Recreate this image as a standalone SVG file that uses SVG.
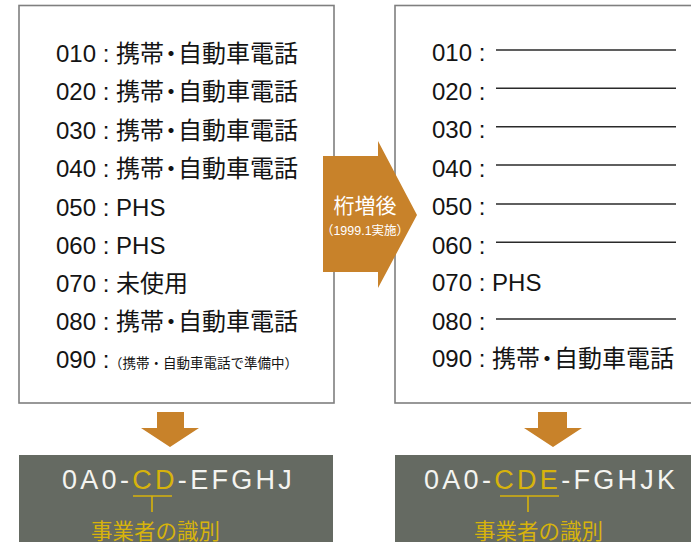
<svg xmlns="http://www.w3.org/2000/svg" width="691" height="542" viewBox="0 0 691 542">
<defs>
<style>
.box{fill:#fff;stroke:#7f7f7f;stroke-width:1.6}
.t{font-family:"Liberation Sans","Noto Sans CJK JP",sans-serif;font-size:24px;fill:#141414}
.s{font-family:"Noto Sans CJK JP",sans-serif;font-size:13.5px}
.ln{stroke:#2a2a2a;stroke-width:1.4}
.org{fill:#C8822A}
.dark{fill:#656A62}
.code{font-family:"Liberation Sans","Noto Sans CJK JP",sans-serif;font-size:27px;fill:#f4f4f0;letter-spacing:3.3px}
.y{fill:#D7B30C}
.yl{stroke:#D7B30C;stroke-width:1.6;fill:none}
.id{font-family:"Noto Sans CJK JP",sans-serif;font-size:21.5px;fill:#D7B30C}
</style>
</defs>
<g id="before">
<rect class="box" x="19" y="5.5" width="315" height="397.5"/>
<text class="t" x="56" y="62">010 : 携帯<tspan dx="-5">・</tspan><tspan dx="-5">自動車電話</tspan></text>
<text class="t" x="56" y="100">020 : 携帯<tspan dx="-5">・</tspan><tspan dx="-5">自動車電話</tspan></text>
<text class="t" x="56" y="139">030 : 携帯<tspan dx="-5">・</tspan><tspan dx="-5">自動車電話</tspan></text>
<text class="t" x="56" y="177">040 : 携帯<tspan dx="-5">・</tspan><tspan dx="-5">自動車電話</tspan></text>
<text class="t" x="56" y="216">050 : PHS</text>
<text class="t" x="56" y="254">060 : PHS</text>
<text class="t" x="56" y="292">070 : 未使用</text>
<text class="t" x="56" y="330">080 : 携帯<tspan dx="-5">・</tspan><tspan dx="-5">自動車電話</tspan></text>
<text class="t" x="56" y="368">090 : <tspan class="s" dx="-7">（携帯・自動車電話で準備中）</tspan></text>
</g>
<g id="after">
<rect class="box" x="395" y="5.5" width="310" height="397.5"/>
<text class="t" x="432" y="61">010 :</text>
<text class="t" x="432" y="100">020 :</text>
<text class="t" x="432" y="138">030 :</text>
<text class="t" x="432" y="177">040 :</text>
<text class="t" x="432" y="215">050 :</text>
<text class="t" x="432" y="254">060 :</text>
<text class="t" x="432" y="291">070 : PHS</text>
<text class="t" x="432" y="330">080 :</text>
<text class="t" x="432" y="367">090 : 携帯<tspan dx="-5">・</tspan><tspan dx="-5">自動車電話</tspan></text>
</g>
<g id="shift">
<path class="org" d="M323,156 H378 V141 L417,215 L378,288 V272 H323 Z"/>
<text x="365" y="213" text-anchor="middle" font-family="Noto Sans CJK JP, sans-serif" font-size="21" fill="#fff">桁増後</text>
<text x="365" y="235" text-anchor="middle" font-family="Liberation Sans, Noto Sans CJK JP, sans-serif" font-size="12.5" fill="#fff">（1999.1実施）</text>
</g>
<g id="code-before">
<rect class="dark" x="19" y="455" width="314" height="90"/>
<text class="code" x="62" y="489">0A0-<tspan class="y">CD</tspan>-EFGHJ</text>
<text class="id" x="91" y="539">事業者の識別</text>
</g>
<g id="code-after">
<rect class="dark" x="395" y="455" width="310" height="90"/>
<text class="code" x="424" y="489">0A0-<tspan class="y">CDE</tspan>-FGHJK</text>
<text class="id" x="474" y="539">事業者の識別</text>
</g>
<g id="connectors">
<line class="ln" x1="496" y1="50" x2="676" y2="50"/>
<line class="ln" x1="496" y1="88.3" x2="676" y2="88.3"/>
<line class="ln" x1="496" y1="126.7" x2="676" y2="126.7"/>
<line class="ln" x1="496" y1="165" x2="676" y2="165"/>
<line class="ln" x1="496" y1="204" x2="676" y2="204"/>
<line class="ln" x1="496" y1="242.3" x2="676" y2="242.3"/>
<line class="ln" x1="496" y1="319" x2="676" y2="319"/>
<path class="org" d="M157,412 H184 V428 H199 L170,447 L141,428 H157 Z"/>
<path class="org" d="M538,412 H567 V428 H582 L553,447 L524,428 H538 Z"/>
<line class="yl" x1="133" y1="496" x2="172" y2="496"/>
<line class="yl" x1="152" y1="496" x2="152" y2="512"/>
<line class="yl" x1="500" y1="496" x2="559" y2="496"/>
<line class="yl" x1="528" y1="496" x2="528" y2="512"/>
</g>
</svg>
